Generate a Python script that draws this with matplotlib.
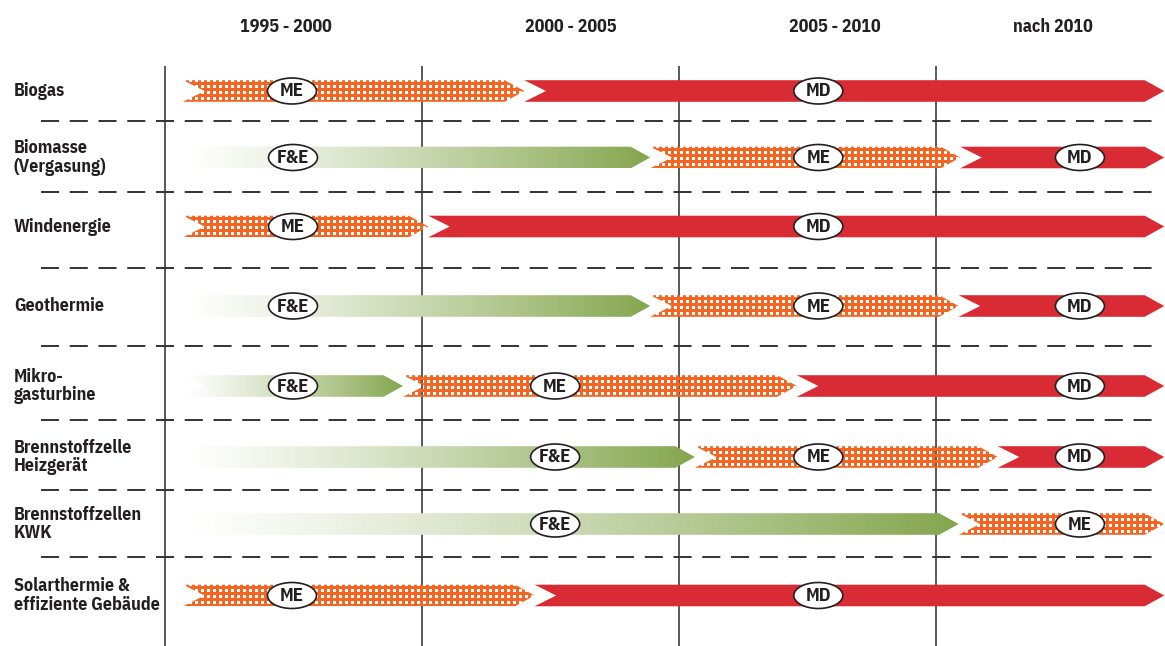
import numpy as np
import matplotlib
matplotlib.use("Agg")
import matplotlib.pyplot as plt
from matplotlib.patches import Polygon, Ellipse
from matplotlib.colors import LinearSegmentedColormap

plt.rcParams['font.family'] = ['IBM Plex Sans Condensed', 'DejaVu Sans']
plt.rcParams['lines.scale_dashes'] = False

# --- data ---------------------------------------------------------------
periods = [1995, 2000, 2005, 2010]
period_labels = ['1995 - 2000', '2000 - 2005', '2005 - 2010', 'nach 2010']

rows = ['Biogas', 'Biomasse\n(Vergasung)', 'Windenergie', 'Geothermie',
        'Mikro-\ngasturbine', 'Brennstoffzelle\nHeizgerät',
        'Brennstoffzellen\nKWK', 'Solarthermie &\neffiziente Gebäude']

phases = [['ME', 'MD'],
          ['F&E', 'ME', 'MD'],
          ['ME', 'MD'],
          ['F&E', 'ME', 'MD'],
          ['F&E', 'ME', 'MD'],
          ['F&E', 'ME', 'MD'],
          ['F&E', 'ME'],
          ['ME', 'MD']]

# year where one phase hands over to the next
switch_years = [[2002.0],
                [2004.45, 2010.48],
                [2000.13],
                [2004.45, 2010.45],
                [1999.64, 2007.3],
                [2005.32, 2011.21],
                [2010.45],
                [2002.2]]

# where the phase name sits on each arrow
label_years = [[1997.48, 2007.72],
               [1997.5, 2007.72, 2012.81],
               [1997.5, 2007.72],
               [1997.5, 2007.72, 2012.81],
               [1997.5, 2002.6, 2012.81],
               [2002.6, 2007.72, 2012.81],
               [2002.6, 2012.81],
               [1997.48, 2007.72]]

first_year = 1995.36
last_year = 2014.45

# --- layout -------------------------------------------------------------
PXY = 51.4                      # pixels per year
X0 = 1995 - 164.5 / PXY
X1 = X0 + 1165 / PXY
row_y = [91, 157.5, 226.5, 306, 386, 457, 524, 595.5]
sep_y = [121, 191.5, 267.5, 345.5, 420, 490, 556.5]
header_x = [1997.37, 2002.91, 2008.05, 2012.29]
H = 10.8          # half bar height (px)
P = 0.38          # arrow point length (years)
N = 0.42          # notch depth (years)

INK = '#231F20'
RED = '#D92B33'
ORANGE = '#F26522'
GREEN = '#84A64E'

fig = plt.figure(figsize=(11.65, 6.46), dpi=100)
ax = fig.add_axes([0, 0, 1, 1])


def arrow_poly(s, e, yc):
    pts = [(s, yc - H), (e - P, yc - H), (e, yc), (e - P, yc + H),
           (s, yc + H), (s + N, yc)]
    return Polygon(pts, closed=True)


# dotted orange texture, holes are transparent
orange_rgba = matplotlib.colors.to_rgba(ORANGE)
green_cmap = LinearSegmentedColormap.from_list('fe', ['#FFFFFF', GREEN])

for i, name in enumerate(rows):
    yc = row_y[i]
    bounds = [first_year] + switch_years[i] + [last_year]
    for j, ph in enumerate(phases[i]):
        s, e = bounds[j], bounds[j + 1]
        poly = arrow_poly(s, e, yc)
        if ph == 'MD':
            poly.set_facecolor(RED)
            poly.set_edgecolor('none')
            poly.set_zorder(3)
            ax.add_patch(poly)
        elif ph == 'ME':
            poly.set_facecolor('none')
            poly.set_edgecolor('none')
            ax.add_patch(poly)
            nx = int((e - s) * PXY) + 1
            ny = int(2 * H) + 1
            ix, iy = np.meshgrid(np.arange(nx), np.arange(ny))
            hole = ((ix % 6) < 3) & (((iy + 1) % 6) < 3)
            img = np.zeros((ny, nx, 4))
            img[..., :3] = orange_rgba[:3]
            img[..., 3] = np.where(hole, 0.0, 1.0)
            im = ax.imshow(img, extent=(s, e, yc + H, yc - H),
                           aspect='auto', interpolation='nearest',
                           zorder=3)
            im.set_clip_path(poly)
        else:
            poly.set_facecolor('none')
            poly.set_edgecolor('none')
            ax.add_patch(poly)
            t = np.linspace(0, 1, 400) ** 1.2
            im = ax.imshow(t[None, :], cmap=green_cmap, vmin=0, vmax=1,
                           extent=(s, e, yc + H, yc - H), aspect='auto',
                           interpolation='bilinear', zorder=3)
            im.set_clip_path(poly)

        lx = label_years[i][j]
        ax.add_patch(Ellipse((lx, yc), width=49 / PXY, height=26,
                             facecolor='white', edgecolor=INK, lw=1.2,
                             zorder=5))
        ax.text(lx, yc + 0.5, ph, ha='center', va='center', fontsize=13.5,
                fontweight='bold', color=INK, zorder=6)

    ax.text(X0 + 14 / PXY, yc, name, ha='left', va='center', fontsize=13,
            fontweight='bold', color=INK, linespacing=1.02)

# grid
ax.vlines(periods, 65.7, 646, color='#2B2B2B', lw=1.1, zorder=1)
ax.hlines(sep_y, X0 + 40.7 / PXY, X0 + 1158 / PXY, color='#333333',
          lw=1.4, linestyles=(0, (13, 7.7)), zorder=1)

for hx, lab in zip(header_x, period_labels):
    ax.text(hx, 27, lab, ha='center', va='center', fontsize=13,
            fontweight='bold', color=INK)

ax.set_xlim(X0, X1)
ax.set_ylim(646, 0)
ax.axis('off')

fig.savefig('out.png', dpi=100)
